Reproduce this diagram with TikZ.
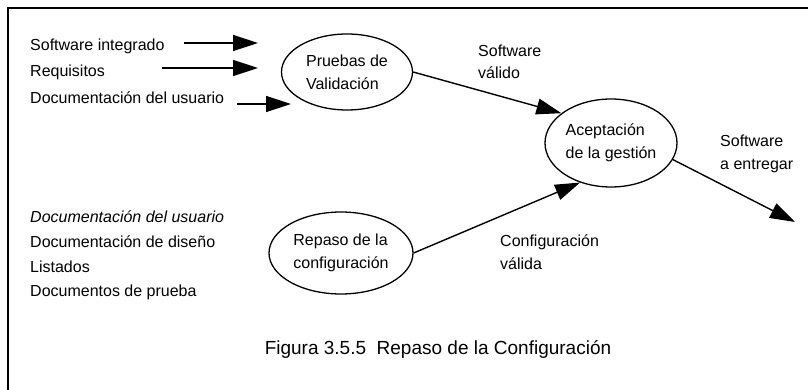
\documentclass[tikz,border=0pt]{standalone}
\usepackage{fontspec}
\setmainfont{Liberation Sans}
\usetikzlibrary{arrows.meta,shapes.geometric}
\begin{document}
\begin{tikzpicture}[x=1pt,y=-1pt,
  lbl/.style={font=\fontsize{16}{22.5}\selectfont, inner sep=0pt, anchor=west, align=left},
  proc/.style={draw, ellipse, line width=1.3pt, inner sep=0pt, font=\fontsize{16}{23}\selectfont, align=left},
  arr/.style={line width=1.4pt, -{Triangle[length=25pt,width=16pt]}},
  frame/.style={line width=1.6pt}]
\useasboundingbox (0,0) rectangle (808,390);
\draw[frame] (808,8) -- (8,8) -- (8,390);
% inputs
\node[lbl] (t1) at (30,46) {Software integrado};
\node[lbl] (t2) at (30,72) {Requisitos};
\node[lbl] (t3) at (30,98) {Documentación del usuario};
\node[lbl] (b1) at (30,217) {\textit{Documentación del usuario}};
\node[lbl] (b2) at (30,242) {Documentación de diseño};
\node[lbl] (b3) at (30,267) {Listados};
\node[lbl] (b4) at (30,292) {Documentos de prueba};
% processes
\node[proc, minimum width=131pt, minimum height=76pt] (e1) at (347,72) {Pruebas de\\Validación};
\node[proc, minimum width=132pt, minimum height=88pt] (e2) at (611,143) {Aceptación\\de la gestión};
\node[proc, minimum width=144pt, minimum height=82pt] (e3) at (341,253) {Repaso de la\\configuración};
% input arrows
\coordinate (a1s) at (184,43); \coordinate (a1e) at (258,43);
\coordinate (a2s) at (162,68); \coordinate (a2e) at (258,68);
\coordinate (a3s) at (237,104); \coordinate (a3e) at (291,104);
\draw[arr] (a1s) -- (a1e);
\draw[arr] (a2s) -- (a2e);
\draw[arr] (a3s) -- (a3e);
% flows
\draw[arr] (e1.east) -- (e2.149);
\draw[arr] (e3.east) -- (e2.232);
\coordinate (out) at (795,222);
\draw[arr] (e2.345) -- (out);
% labels
\node[lbl] (l1) at (478,62) {Software\\ válido};
\node[lbl] (l2) at (720,154) {Software\\a entregar};
\node[lbl] (l3) at (500,252) {Configuración\\válida};
\node[font=\fontsize{19}{23}\selectfont, inner sep=0pt] (cap) at (438,349) {Figura 3.5.5\ \ Repaso de la Configuración};
\end{tikzpicture}
\end{document}
